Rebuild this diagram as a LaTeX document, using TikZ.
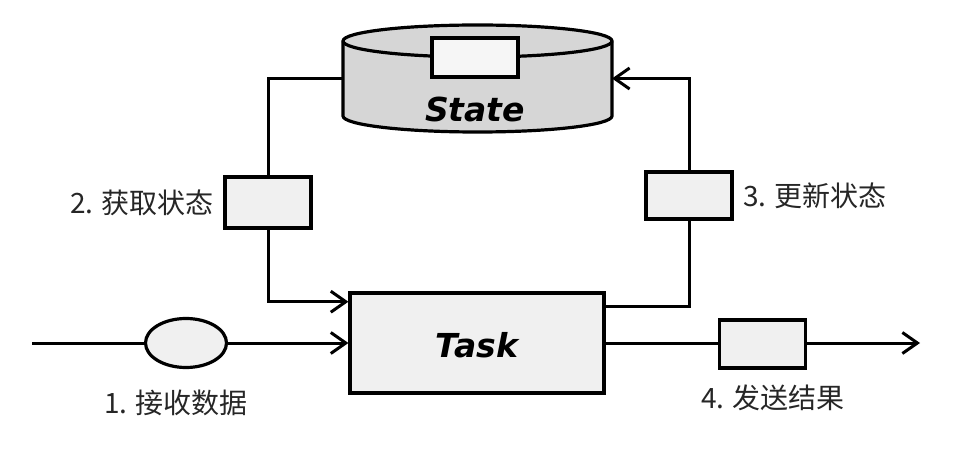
\documentclass[tikz,border=0pt]{standalone}
\usepackage{fontspec}
\setmainfont{Noto Sans CJK SC}
\newfontfamily\tagfont{DejaVu Sans}
\usetikzlibrary{positioning,arrows.meta,calc,shapes.geometric}
\definecolor{dbgray}{HTML}{D6D6D6}
\definecolor{boxgray}{HTML}{F0F0F0}
\definecolor{slotgray}{HTML}{F6F6F6}

\begin{document}
\begin{tikzpicture}[x=1pt, y=-1pt, line width=3.2pt,
    conn/.style={line width=3pt},
    arr/.style={-{Straight Barb[length=15pt,width=21pt,line width=3pt]}},
    msgbox/.style={draw, fill=boxgray, minimum width=86pt, minimum height=48pt, inner sep=0pt},
    lbl/.style={font=\fontsize{28}{32}\selectfont, inner sep=0pt, text=black!85},
    tag/.style={font=\tagfont\bfseries\itshape\fontsize{33}{38}\selectfont, inner sep=0pt}]
        \useasboundingbox (0,0) rectangle (966,462);
        % state store (body between the two end ellipses)
        \node[minimum width=269pt, minimum height=75pt, inner sep=0pt, outer sep=0pt] (state) at (477.5,78.5) {};
        \draw[fill=dbgray] (state.north west) -- (state.south west)
            arc[start angle=180, end angle=360, x radius=134.5pt, y radius=16pt]
            -- (state.north east)
            arc[start angle=0, end angle=180, x radius=134.5pt, y radius=16pt] -- cycle;
        \draw (state.north west) arc[start angle=180, end angle=360, x radius=134.5pt, y radius=16pt];
        \node[draw, fill=slotgray, minimum width=86pt, minimum height=39pt, inner sep=0pt] (slot) at (475,57.5) {};
        \node[tag] (statelbl) at (475,109) {State};
        % task
        \node[draw, fill=boxgray, minimum width=254pt, minimum height=100pt, inner sep=0pt] (task) at (477,343) {};
        \node[tag] (tasklbl) at (477,345) {Task};
        % messages
        \node[draw, ellipse, fill=boxgray, minimum width=81pt, minimum height=49pt, inner sep=0pt] (recv) at (186,343) {};
        \node[msgbox, minimum height=51pt] (get) at (268,202.5) {};
        \node[msgbox, minimum height=47pt] (upd) at (689,195.5) {};
        \node[msgbox] (send) at (762.5,344) {};
        % labels
        \node[lbl] (recvlbl) at (176,403) {1. 接收数据};
        \node[lbl, left=8pt of get] (getlbl) {2. 获取状态};
        \node[lbl, right=8pt of upd] (updlbl) {3. 更新状态};
        \node[lbl] (sendlbl) at (773,398) {4. 发送结果};
        % connectors
        \coordinate (src) at (32,343);
        \coordinate (dst) at (920,343);
        \coordinate (tin) at ($(task.north west)!0.1!(task.south west)$);
        \coordinate (tout) at ($(task.north east)!0.15!(task.south east)$);
        \draw[conn] (src) -- (recv.west);
        \draw[conn, arr] (recv.east) -- (task.west);
        \draw[conn] (task.east) -- (send.west |- task.east);
        \draw[conn, arr] (send.east |- dst) -- (dst);
        \draw[conn] (state.west) -| (get.north);
        \draw[conn, arr] (get.south) |- (tin);
        \draw[conn] (tout) -| (upd.south);
        \draw[conn, arr] (upd.north) |- (state.east);
\end{tikzpicture}
\end{document}
